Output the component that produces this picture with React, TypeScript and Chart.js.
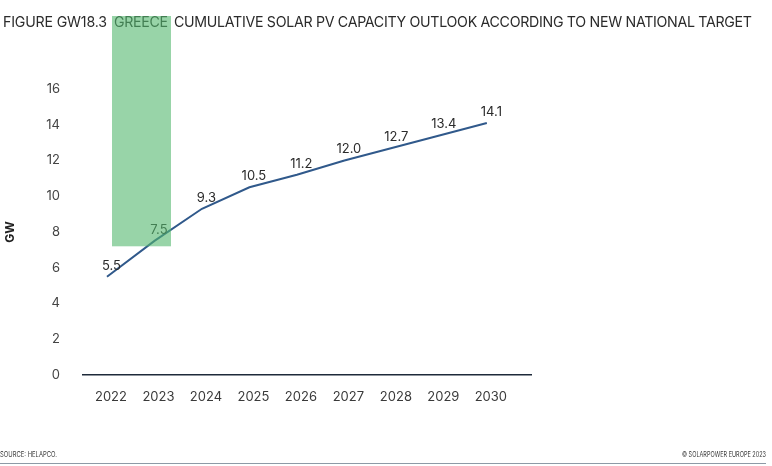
import React, { useEffect, useRef } from "react";
import { Chart, registerables } from "chart.js";

Chart.register(...registerables);

const YEARS = [2022, 2023, 2024, 2025, 2026, 2027, 2028, 2029, 2030];
const CAPACITY_GW = [5.5, 7.5, 9.3, 10.5, 11.2, 12.0, 12.7, 13.4, 14.1];
const Y_TICKS = [0, 2, 4, 6, 8, 10, 12, 14, 16];
const Y_TITLE = "GW";
const TITLE_PREFIX = "FIGURE GW18.3";
const TITLE_HIGHLIGHT = "GREECE";
const TITLE_SUFFIX = "CUMULATIVE SOLAR PV CAPACITY OUTLOOK ACCORDING TO NEW NATIONAL TARGET";
const SOURCE_TEXT = "SOURCE: HELAPCO.";
const COPYRIGHT_TEXT = "© SOLARPOWER EUROPE 2023";

const X_MIN = 2021.495;
const X_MAX = 2030.93;
const HIGHLIGHT_FLOOR = 7.2;

const FONT = "Inter, 'Noto Sans', sans-serif";
const TEXT_DARK = "#2b2b2b";
const LINE_BLUE = "#30598b";
const AXIS_NAVY = "#1e2a3a";

// [text, left, right] segments of the title line
const TITLE_SEGMENTS: [string, number, number][] = [
  [TITLE_PREFIX, 3, 107],
  [TITLE_HIGHLIGHT, 114, 168],
  [TITLE_SUFFIX, 174, 752],
];

function drawFitted(ctx: CanvasRenderingContext2D, text: string, left: number, right: number, y: number) {
  (ctx as any).letterSpacing = "0px";
  const w = ctx.measureText(text).width;
  const n = Math.max(1, text.length - 1);
  const sp = (right - left - w) / n;
  (ctx as any).letterSpacing = `${sp}px`;
  ctx.fillText(text, left, y);
  (ctx as any).letterSpacing = "0px";
}

const decorPlugin = {
  id: "decor",
  afterDatasetsDraw(chart: any) {
    const ctx = chart.ctx as CanvasRenderingContext2D;
    const meta = chart.getDatasetMeta(0);
    ctx.save();
    ctx.font = `400 13px ${FONT}`;
    ctx.fillStyle = TEXT_DARK;
    ctx.textAlign = "center";
    ctx.textBaseline = "middle";
    meta.data.forEach((pt: any, i: number) => {
      ctx.fillText(CAPACITY_GW[i].toFixed(1), pt.x + 4.5, pt.y - 11);
    });
    ctx.restore();
  },
  afterDraw(chart: any) {
    const ctx = chart.ctx as CanvasRenderingContext2D;
    const W = chart.width;
    const yScale = chart.scales.y;
    ctx.save();

    // Title
    const size = 14.2;
    ctx.font = `400 ${size}px ${FONT}`;
    ctx.fillStyle = TEXT_DARK;
    ctx.textAlign = "left";
    ctx.textBaseline = "alphabetic";
    const baseline = 27;
    TITLE_SEGMENTS.forEach(([t, l, r]) => drawFitted(ctx, t, l, r, baseline));

    // Footer
    ctx.fillStyle = "#3a3a3a";
    ctx.font = `400 7.5px ${FONT}`;
    const sw = ctx.measureText(SOURCE_TEXT).width;
    ctx.save();
    ctx.translate(0, 457);
    ctx.scale(57 / sw, 1);
    ctx.fillText(SOURCE_TEXT, 0, 0);
    ctx.restore();
    const cw = ctx.measureText(COPYRIGHT_TEXT).width;
    ctx.save();
    ctx.translate(682, 457);
    ctx.scale(84 / cw, 1);
    ctx.fillText(COPYRIGHT_TEXT, 0, 0);
    ctx.restore();
    ctx.strokeStyle = "#8d9aa6";
    ctx.lineWidth = 1;
    ctx.beginPath();
    ctx.moveTo(0, 463.5);
    ctx.lineTo(W - 6, 463.5);
    ctx.stroke();

    // Highlight box behind the country name, running down into the plot
    const [, hl, hr] = TITLE_SEGMENTS[1];
    const top = 16;
    const bottom = yScale.getPixelForValue(HIGHLIGHT_FLOOR);
    ctx.fillStyle = "rgba(83, 183, 110, 0.6)";
    ctx.fillRect(hl - 2, top, hr - hl + 5, bottom - top);
    ctx.restore();
  },
};

export default function App() {
  const ref = useRef<HTMLCanvasElement | null>(null);

  useEffect(() => {
    document.body.style.margin = "0";
    const canvas = ref.current;
    if (!canvas) return;
    const chart = new Chart(canvas, {
      type: "line",
      data: {
        datasets: [
          {
            data: YEARS.map((y, i) => ({ x: y, y: CAPACITY_GW[i] })),
            borderColor: LINE_BLUE,
            borderWidth: 2,
            pointRadius: 0,
            tension: 0,
            fill: false,
          },
        ],
      },
      options: {
        animation: false,
        responsive: false,
        devicePixelRatio: 1,
        layout: { padding: { top: 89, right: 241, bottom: 0, left: 0 } },
        plugins: {
          legend: { display: false },
          tooltip: { enabled: false },
          title: { display: false },
        },
        scales: {
          x: {
            type: "linear",
            min: X_MIN,
            max: X_MAX,
            afterBuildTicks: (s: any) => {
              s.ticks = YEARS.map((v) => ({ value: v }));
            },
            afterFit: (s: any) => {
              s.height = 91;
            },
            grid: { display: true, drawOnChartArea: false, drawTicks: false, color: "transparent" },
            border: { display: true, color: AXIS_NAVY, width: 1.5 },
            ticks: {
              callback: (v: any) => String(v),
              color: "#3a3a3a",
              font: { family: FONT, size: 13 },
              padding: 14,
              labelOffset: 4,
              maxRotation: 0,
              autoSkip: false,
            },
          },
          y: {
            type: "linear",
            min: 0,
            max: 16,
            afterBuildTicks: (s: any) => {
              s.ticks = Y_TICKS.map((v) => ({ value: v }));
            },
            afterFit: (s: any) => {
              s.width = 83;
            },
            grid: { display: false },
            border: { display: false },
            title: {
              display: true,
              text: Y_TITLE,
              color: "#222",
              font: { family: FONT, size: 12, weight: "bold" },
              padding: { top: 3, bottom: 0 },
            },
            ticks: {
              callback: (v: any) => String(v),
              color: "#444",
              font: { family: FONT, size: 13 },
              padding: 15,
            },
          },
        },
      },
      plugins: [decorPlugin],
    } as any);
    return () => chart.destroy();
  }, []);

  return (
    <div style={{ width: 772, height: 466, background: "#fff" }}>
      <canvas ref={ref} width={772} height={466} style={{ display: "block" }} />
    </div>
  );
}
